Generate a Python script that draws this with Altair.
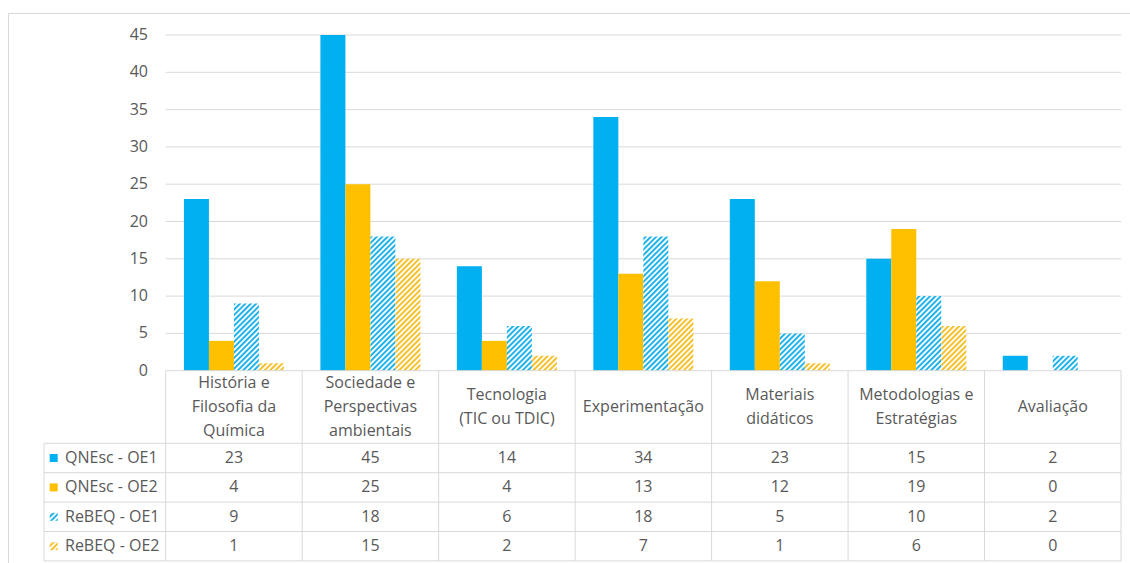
import altair as alt
import pandas as pd
import jinja2

# ---------------- data ----------------
categories = [
    "História e\nFilosofia da\nQuímica",
    "Sociedade e\nPerspectivas\nambientais",
    "Tecnologia\n(TIC ou TDIC)",
    "Experimentação",
    "Materiais\ndidáticos",
    "Metodologias e\nEstratégias",
    "Avaliação",
]
series = ["QNEsc - OE1", "QNEsc - OE2", "ReBEQ - OE1", "ReBEQ - OE2"]
qnesc_oe1 = [23, 45, 14, 34, 23, 15, 2]
qnesc_oe2 = [4, 25, 4, 13, 12, 19, 0]
rebeq_oe1 = [9, 18, 6, 18, 5, 10, 2]
rebeq_oe2 = [1, 15, 2, 7, 1, 6, 0]
y_ticks = [0, 5, 10, 15, 20, 25, 30, 35, 40, 45]

values = [qnesc_oe1, qnesc_oe2, rebeq_oe1, rebeq_oe2]
fills = ["#00B0F0", "#FFC000", "url(#hatchBlue)", "url(#hatchGold)"]

# ---------------- layout (pixels) ----------------
PLOT_L, PLOT_T, PLOT_W, PLOT_H = 8, 13, 1122, 550
COL0_PX, COL_W = 165.7, 136.47
ZERO_PX, UNIT_PX = 370.7, 7.46
TABLE_L_PX = 44
HEADER_B_PX, ROW_H = 443.3, 29.4
HEADER_MID_PX = 407
LINE_H = 24
BAR_W_PX = 25
SWATCH_X_PX, NAME_X_PX = 53.7, 65
YLAB_X_PX = 148
FONT = "Open Sans"
FSIZE = 16
TXT = "#595959"
LINE = "#D9D9D9"


def xu(px):
    return (px - COL0_PX) / COL_W


def yu(px):
    return (ZERO_PX - px) / UNIT_PX


ncat = len(categories)
bw = BAR_W_PX / COL_W
xscale = alt.Scale(domain=[xu(PLOT_L), xu(PLOT_L + PLOT_W)], nice=False, zero=False)
yscale = alt.Scale(domain=[yu(PLOT_T + PLOT_H), yu(PLOT_T)], nice=False, zero=False)

# bars
bar_rows = []
for k, s in enumerate(series):
    for i, c in enumerate(categories):
        x0 = i + 0.5 + (k - 2) * bw
        bar_rows.append({"series": s, "cat": c, "v": values[k][i], "x": x0, "x2": x0 + bw, "y0": 0})
bars_df = pd.DataFrame(bar_rows)

# gridlines and y labels
grid_df = pd.DataFrame({"v": y_ticks[1:], "x": 0, "x2": ncat})
ylab_df = pd.DataFrame({"v": y_ticks, "t": [str(t) for t in y_ticks], "x": xu(YLAB_X_PX)})

# table lines
row_lines = [yu(HEADER_B_PX + r * ROW_H) for r in range(len(series) + 1)]
y_bottom = row_lines[-1]
h_lines = [{"x": 0, "x2": ncat, "y": 0, "y2": 0}]
for yv in row_lines:
    h_lines.append({"x": xu(TABLE_L_PX), "x2": ncat, "y": yv, "y2": yv})
v_lines = [{"x": i, "x2": i, "y": 0, "y2": y_bottom} for i in range(ncat + 1)]
v_lines.append({"x": xu(TABLE_L_PX), "x2": xu(TABLE_L_PX), "y": row_lines[0], "y2": y_bottom})
lines_df = pd.DataFrame(h_lines + v_lines)

# header labels (first line placed so that the block is centred)
head_df = pd.DataFrame({
    "label": categories,
    "x": [i + 0.5 for i in range(ncat)],
    "y": [yu(HEADER_MID_PX - (c.count("\n")) * LINE_H / 2) for c in categories],
})

# table values
cell_rows = []
for r, s in enumerate(series):
    yc = yu(HEADER_B_PX + (r + 0.5) * ROW_H)
    for i in range(ncat):
        cell_rows.append({"t": str(values[r][i]), "x": i + 0.5, "y": yc})
cells_df = pd.DataFrame(cell_rows)

leg_df = pd.DataFrame({
    "series": series,
    "y": [yu(HEADER_B_PX + (r + 0.5) * ROW_H) for r in range(len(series))],
    "xs": xu(SWATCH_X_PX),
    "xn": xu(NAME_X_PX),
})

color_scale = alt.Scale(domain=series, range=fills)

grid = alt.Chart(grid_df).mark_rule(color=LINE, strokeWidth=1).encode(
    x=alt.X("x:Q", scale=xscale, axis=None),
    x2="x2:Q",
    y=alt.Y("v:Q", scale=yscale, axis=None),
)

ylabels = alt.Chart(ylab_df).mark_text(
    font=FONT, fontSize=FSIZE, color=TXT, align="right", baseline="middle").encode(
    x=alt.X("x:Q", scale=xscale, axis=None),
    y=alt.Y("v:Q", scale=yscale, axis=None),
    text="t:N",
)

bars = alt.Chart(bars_df).mark_bar(strokeWidth=0).encode(
    x=alt.X("x:Q", scale=xscale, axis=None),
    x2="x2:Q",
    y=alt.Y("y0:Q", scale=yscale, axis=None),
    y2="v:Q",
    fill=alt.Fill("series:N", scale=color_scale, legend=None),
)

lines = alt.Chart(lines_df).mark_rule(color=LINE, strokeWidth=1).encode(
    x=alt.X("x:Q", scale=xscale, axis=None),
    x2="x2:Q",
    y=alt.Y("y:Q", scale=yscale, axis=None),
    y2="y2:Q",
)

head = alt.Chart(head_df).mark_text(
    font=FONT, fontSize=FSIZE, color=TXT, lineBreak="\n", lineHeight=LINE_H,
    align="center", baseline="middle").encode(
    x=alt.X("x:Q", scale=xscale, axis=None),
    y=alt.Y("y:Q", scale=yscale, axis=None),
    text="label:N",
)

cells = alt.Chart(cells_df).mark_text(
    font=FONT, fontSize=FSIZE, color=TXT, align="center", baseline="middle").encode(
    x=alt.X("x:Q", scale=xscale, axis=None),
    y=alt.Y("y:Q", scale=yscale, axis=None),
    text="t:N",
)

swatch = alt.Chart(leg_df).mark_square(size=64, opacity=1, strokeWidth=0).encode(
    x=alt.X("xs:Q", scale=xscale, axis=None),
    y=alt.Y("y:Q", scale=yscale, axis=None),
    fill=alt.Fill("series:N", scale=color_scale, legend=None),
)

names = alt.Chart(leg_df).mark_text(
    font=FONT, fontSize=FSIZE, color=TXT, align="left", baseline="middle").encode(
    x=alt.X("xn:Q", scale=xscale, axis=None),
    y=alt.Y("y:Q", scale=yscale, axis=None),
    text="series:N",
)

chart = alt.layer(grid, ylabels, bars, lines, head, cells, swatch, names).properties(
    width=PLOT_W, height=PLOT_H,
    padding={"left": PLOT_L, "top": PLOT_T, "right": 0, "bottom": 0},
    autosize=alt.AutoSizeParams(type="none"),
    background="white",
).configure_view(stroke=LINE, strokeWidth=1)

TEMPLATE = jinja2.Template("""<!DOCTYPE html>
<html>
<head>
  <meta charset="utf-8">
  <style>
    body { margin: 0; }
    #{{ output_div }}.vega-embed { width: 100%; display: flex; }
  </style>
  <script type="text/javascript" src="{{ base_url }}/vega@{{ vega_version }}"></script>
  <script type="text/javascript" src="{{ base_url }}/vega-lite@{{ vegalite_version }}"></script>
  <script type="text/javascript" src="{{ base_url }}/vega-embed@{{ vegaembed_version }}"></script>
</head>
<body>
  <svg width="0" height="0" style="position:absolute">
    <defs>
      <pattern id="hatchBlue" patternUnits="userSpaceOnUse" width="3.8" height="3.8" patternTransform="rotate(45)">
        <rect width="3.8" height="3.8" fill="#ffffff"/>
        <rect width="2.0" height="3.8" fill="#1FB2EA"/>
      </pattern>
      <pattern id="hatchGold" patternUnits="userSpaceOnUse" width="3.8" height="3.8" patternTransform="rotate(45)">
        <rect width="3.8" height="3.8" fill="#ffffff"/>
        <rect width="2.0" height="3.8" fill="#F5C02A"/>
      </pattern>
    </defs>
  </svg>
  <div id="{{ output_div }}"></div>
  <script>
    vegaEmbed("#{{ output_div }}", {{ spec }}, {{ embed_options }}).catch(console.error);
  </script>
</body>
</html>""")

try:
    chart.save("out.html", embed_options={"renderer": "svg", "actions": False}, template=TEMPLATE)
except Exception:
    chart.save("out.html", embed_options={"renderer": "svg", "actions": False})
